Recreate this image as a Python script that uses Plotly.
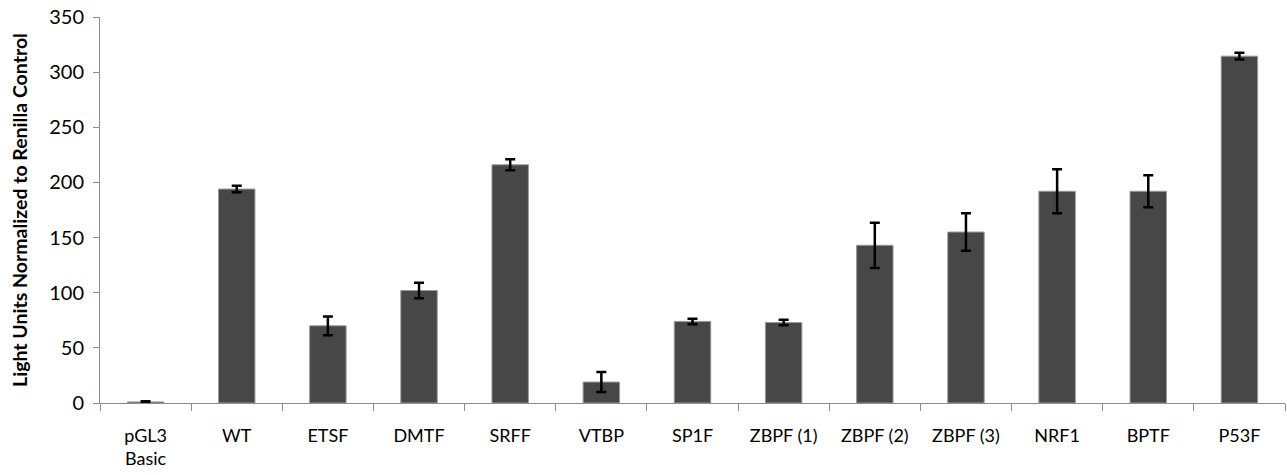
import plotly.graph_objects as go

categories = ["pGL3<br>Basic", "WT", "ETSF", "DMTF", "SRFF", "VTBP", "SP1F",
              "ZBPF (1)", "ZBPF (2)", "ZBPF (3)", "NRF1", "BPTF", "P53F"]
values = [1, 194, 70, 102, 216, 19, 74, 73, 143, 155, 192, 192, 314.5]
errors = [0.5, 3, 8.5, 7, 5, 9, 2.5, 2.5, 20.5, 17, 20, 14.5, 3]
y_ticks = [0, 50, 100, 150, 200, 250, 300, 350]

fig = go.Figure()
fig.add_trace(go.Bar(
    x=categories, y=values,
    marker=dict(color="#474747", line=dict(color="#9a9a9a", width=1)),
    width=0.4,
    error_y=dict(type="data", array=errors, visible=True,
                 color="black", thickness=2.5, width=5),
))

font_family = "Lato, 'Open Sans', sans-serif"
fig.update_layout(
    width=1287, height=475,
    margin=dict(l=100, r=2, t=17, b=72),
    plot_bgcolor="white", paper_bgcolor="white",
    showlegend=False,
    bargap=0.6,
    font=dict(family=font_family, size=16, color="black"),
    xaxis=dict(
        type="category",
        showline=True, linecolor="#8c8c8c", linewidth=1,
        ticks="outside", tickson="boundaries", ticklen=7, tickcolor="#8c8c8c",
        tickfont=dict(size=18, family=font_family),
        ticklabelstandoff=16,
        showgrid=False,
    ),
    yaxis=dict(
        range=[0, 350], tickvals=y_ticks,
        showline=True, linecolor="#8c8c8c", linewidth=1,
        ticks="outside", ticklen=6, tickcolor="#8c8c8c",
        tickfont=dict(size=20, family=font_family),
        ticklabelstandoff=5,
        showgrid=False, zeroline=False,
        title=dict(text="<b>Light Units Normalized to Renilla Control</b>",
                   font=dict(size=19.5, family=font_family), standoff=16),
    ),
)

fig.write_html("out.html")
